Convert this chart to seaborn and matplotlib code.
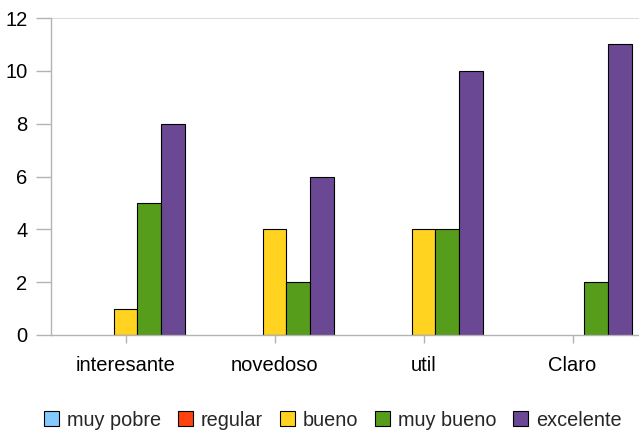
import matplotlib

matplotlib.use("Agg")
import matplotlib.pyplot as plt
import pandas as pd
import seaborn as sns

categories = ["interesante", "novedoso", "util", "Claro"]
levels = ["muy pobre", "regular", "bueno", "muy bueno", "excelente"]
muy_pobre = [0, 0, 0, 0]
regular = [0, 0, 0, 0]
bueno = [1, 4, 4, 0]
muy_bueno = [5, 2, 4, 2]
excelente = [8, 6, 10, 11]
colors = ["#83caff", "#ff420e", "#ffd320", "#579d1c", "#6b4894"]

series = dict(zip(levels, [muy_pobre, regular, bueno, muy_bueno, excelente]))
rows = []
for level, values in series.items():
    for cat, val in zip(categories, values):
        if val > 0:
            rows.append({"category": cat, "level": level, "value": val})
frame = pd.DataFrame(rows)

sns.set_style("white")
plt.rcParams["font.family"] = ["Liberation Sans", "DejaVu Sans"]

fig = plt.figure(figsize=(6.39, 4.32), dpi=100)
ax = fig.add_axes([51 / 639, 1 - 335 / 432, 596 / 639, 317 / 432])
sns.barplot(
    data=frame, x="category", y="value", hue="level",
    order=categories, hue_order=levels, palette=colors, saturation=1,
    width=0.805, edgecolor="black", linewidth=0.8, ax=ax,
)
ax.set_xlim(-0.5, 3.5)
ax.set_ylim(0, 12)
ax.set_yticks(range(0, 13, 2))
ax.set_xlabel("")
ax.set_ylabel("")
ax.yaxis.grid(False)
ax.axhline(12, color="#d4d4d4", linewidth=1.2, zorder=0)
for side in ["top", "right"]:
    ax.spines[side].set_visible(False)
for side in ["left", "bottom"]:
    ax.spines[side].set_color("#b3b3b3")
    ax.spines[side].set_linewidth(1.0)
ax.tick_params(axis="both", colors="#b3b3b3", labelcolor="black", labelsize=14.5,
               length=11, width=1.0, direction="out", left=True, bottom=False)
ax.tick_params(axis="x", bottom=True, length=6, pad=9)
ax.tick_params(axis="y", pad=6)

handles, labels = ax.get_legend_handles_labels()
ax.legend_.remove()
fig.legend(handles, labels, loc="center", bbox_to_anchor=(333 / 639, 1 - 420 / 432), ncol=5,
           frameon=False, fontsize=14.3, handlelength=0.75, handleheight=0.75,
           handletextpad=0.4, columnspacing=0.85, borderpad=0)

fig.savefig("out.png", dpi=100)
